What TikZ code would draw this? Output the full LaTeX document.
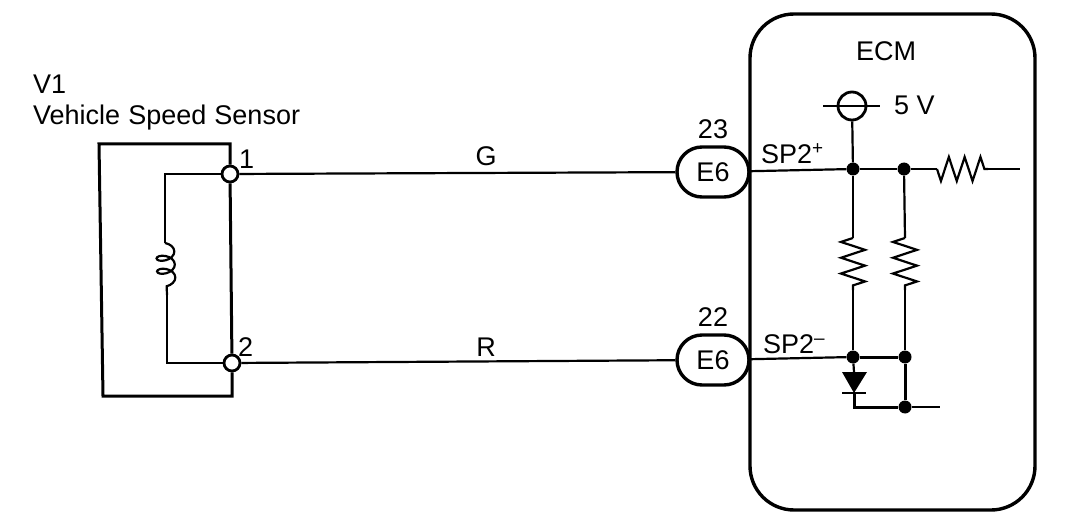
\documentclass[tikz,border=0pt]{standalone}
\usepackage{fontspec}
\setmainfont{Liberation Sans}
\usepackage{xcolor}
\usepackage{tikz}
\usetikzlibrary{arrows.meta,shapes,positioning,calc,decorations.pathmorphing}
\tikzset{
    wire/.style={line width=2.2pt, black},
    heavy/.style={line width=3pt, black},
    pin/.style={circle, draw, line width=2.8pt, fill=white, inner sep=0pt, minimum size=16pt},
    dotnode/.style={circle, fill=black, inner sep=0pt, minimum size=13pt},
    conn/.style={rounded rectangle, draw, line width=3.4pt, fill=white, inner sep=0pt, minimum width=72pt, minimum height=50pt, font=\fontsize{27}{31}\selectfont},
    lbl/.style={inner sep=0pt, font=\fontsize{27}{31}\selectfont},
    res/.style={wire, decorate, decoration={zigzag, mirror, segment length=15.8pt, amplitude=12pt}}
}
\begin{document}
\begin{tikzpicture}[x=1pt, y=-1pt]
    \useasboundingbox (0,0) rectangle (1088,524);

    % ECM housing
    \draw[line width=3.4pt, rounded corners=44pt] (750,14) rectangle (1035,510);
    \node[lbl] (ecmlabel) at (886,51) {ECM};

    % Sensor pins and housing
    \node[pin] (pinone) at (230,174) {};
    \node[pin] (pintwo) at (232,363) {};
    \coordinate (boxtl) at (99,144);
    \coordinate (boxbl) at (103,396);
    \draw[heavy] (pinone.north) -- (pinone.north |- boxtl) -- (boxtl) -- (boxbl) -- (pintwo.south |- boxbl) -- (pintwo.south);
    \draw[heavy] (pinone) -- (pintwo);
    \node[lbl, anchor=west] (pinonelabel) at (239,159) {1};
    \node[lbl, anchor=west] (pintwolabel) at (238,347) {2};
    \node[lbl, anchor=west] (sensorid) at (33,84) {V1};
    \node[lbl, anchor=west] (sensorname) at (33,118) {\spaceskip=0.3em Vehicle Speed Sensor};

    % Coil
    \coordinate (coilin) at (165,243);
    \coordinate (coilout) at (167,295);
    \draw[wire] (pinone) -| (coilin);
    \draw[wire] (pintwo) -| (coilout);
    \draw[wire, decorate, decoration={coil, aspect=0.6, segment length=13pt, amplitude=9pt}] (coilin) -- (coilout);

    % Harness
    \node[conn] (connup) at (713,172) {E6};
    \node[conn] (conndown) at (713,360) {E6};
    \node[lbl] (pinup) at (713,129) {23};
    \node[lbl] (pindown) at (713,317) {22};
    \draw[wire] (pinone) -- (connup);
    \draw[wire] (pintwo) -- (conndown);
    \node[lbl] (wireg) at (486,156) {G};
    \node[lbl] (wirer) at (486,347) {R};

    % Junctions
    \node[dotnode] (jupa) at (853,169) {};
    \node[dotnode] (jupb) at (904,169) {};
    \node[dotnode] (jdowna) at (853,357) {};
    \node[dotnode] (jdownb) at (905,357) {};
    \node[dotnode] (jgnd) at (905,407) {};
    \node[lbl, anchor=west] (sptwoplus) at (761,154) {SP2\textsuperscript{+}};
    \node[lbl, anchor=west] (sptwominus) at (763,344) {SP2\textsuperscript{--}};
    \draw[wire] (connup) -- (jupa);
    \draw[wire] (jupa) -- (jupb);
    \draw[wire] (conndown) -- (jdowna);
    \draw[heavy] (jdowna) -- (jdownb);
    \draw[heavy] (jdownb) -- (jgnd);

    % 5 V supply
    \node[circle, draw, line width=2.8pt, inner sep=0pt, minimum size=28pt] (supply) at (852,106) {};
    \coordinate (barl) at (823,106);
    \coordinate (barr) at (880,106);
    \draw[wire] (barl) -- (barr);
    \draw[wire] (supply) -- (jupa);
    \node[lbl, anchor=west] (supplylabel) at (894,105) {5 V};

    % Resistors
    \coordinate (rhin) at (937,169);
    \coordinate (rhout) at (988,169);
    \coordinate (rhend) at (1020,169);
    \draw[wire] (jupb) -- (rhin);
    \draw[res] (rhin) -- (rhout);
    \draw[wire] (rhout) -- (rhend);
    \coordinate (raup) at (853,238);
    \coordinate (radown) at (853,290);
    \coordinate (rbup) at (905,238);
    \coordinate (rbdown) at (905,290);
    \draw[wire] (jupa) -- (raup);
    \draw[res] (raup) -- (radown);
    \draw[wire] (radown) -- (jdowna);
    \draw[wire] (jupb) -- (rbup);
    \draw[res] (rbup) -- (rbdown);
    \draw[wire] (rbdown) -- (jdownb);

    % Diode
    \coordinate (diodetop) at (854,372);
    \coordinate (diodetip) at (854,393);
    \coordinate (diodeend) at (854,407);
    \coordinate (gndend) at (940,407);
    \fill (842,372) -- (867,372) -- (diodetip) -- cycle;
    \draw[wire] (842,393) -- (866,393);
    \draw[wire] (jdowna) -- (diodetop);
    \draw[heavy] (diodetip) -- (diodeend) -- (jgnd);
    \draw[wire] (jgnd) -- (gndend);
\end{tikzpicture}
\end{document}
